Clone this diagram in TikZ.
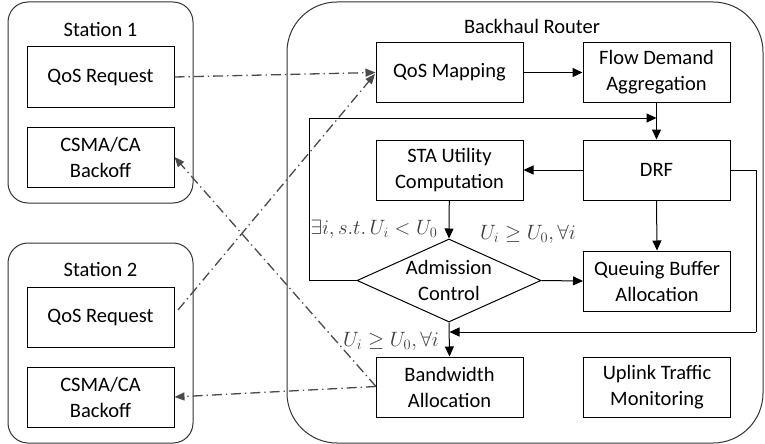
\documentclass[tikz,border=0pt]{standalone}
\usepackage{fontspec}
\setmainfont{Carlito}
\usetikzlibrary{arrows.meta,shapes.geometric}
\definecolor{dashgray}{HTML}{4A4A4A}
\definecolor{labgray}{HTML}{3C3C3C}
\definecolor{framegray}{HTML}{333333}
\tikzset{
  blk/.style={draw, line width=1pt, minimum width=147pt, minimum height=60pt, align=center, inner sep=0pt, font=\fontsize{20.5}{26}\selectfont},
  grp/.style={draw=framegray, line width=1pt},
  ttl/.style={font=\fontsize{20.5}{26}\selectfont},
  flow/.style={line width=1pt, -{Triangle[length=10pt,width=9pt]}},
  plainline/.style={line width=1pt},
  sig/.style={draw=dashgray, line width=1.3pt, dash pattern=on 10pt off 4pt on 1.3pt off 4pt, -{Triangle[length=10pt,width=8pt]}},
  cond/.style={text=labgray, font=\fontsize{19.5}{24}\selectfont, inner sep=0pt},
}
\begin{document}
\begin{tikzpicture}[x=1pt,y=-1pt]
\useasboundingbox (0,0) rectangle (765,444);
% group frames
\draw[grp, rounded corners=20pt] (8,2) rectangle (193,203);
\draw[grp, rounded corners=20pt] (8,243) rectangle (193,443);
\draw[grp, rounded corners=50pt] (287,2) rectangle (763,443);
\node[ttl] (t1) at (100.5,29) {Station 1};
\node[ttl] (t2) at (100.5,269) {Station 2};
\node[ttl] (tr) at (532,26) {Backhaul Router};
% station blocks
\node[blk] (s1q) at (100.5,77) {QoS Request};
\node[blk] (s1c) at (100.5,157) {CSMA/CA\\Backoff};
\node[blk] (s2q) at (100.5,317) {QoS Request};
\node[blk] (s2c) at (100.5,397) {CSMA/CA\\Backoff};
% router blocks
\node[blk] (qm) at (449.5,72.5) {QoS Mapping};
\node[blk] (fd) at (656.5,72.5) {Flow Demand\\Aggregation};
\node[blk] (sta) at (449.5,170) {STA Utility\\Computation};
\node[blk] (drf) at (656.5,170) {DRF};
\node[draw, line width=1pt, diamond, aspect=2.2, minimum width=184pt, minimum height=83pt, inner sep=0pt, align=center, font=\fontsize{20.5}{26}\selectfont] (adm) at (449,280.5) {Admission\\Control};
\node[blk] (qb) at (657,281) {Queuing Buffer\\Allocation};
\node[blk] (bw) at (449.5,387) {Bandwidth\\Allocation};
\node[blk] (ut) at (657,387) {Uplink Traffic\\Monitoring};
% coordinates
\coordinate (lb) at (309,280.5);
\coordinate (lt) at (309,118);
\coordinate (jt) at (656.5,118);
\coordinate (rt) at (756,170);
\coordinate (rb) at (756,332);
\coordinate (jb) at (449.5,332);
% flows
\draw[flow] (qm) -- (fd);
\draw[flow] (fd) -- (drf);
\draw[flow] (drf) -- (sta);
\draw[flow] (sta) -- (adm.north);
\draw[flow] (adm.east) -- (qb.west);
\draw[flow] (drf.south) -- (qb.north);
\draw[plainline] (adm.west) -- (lb) -- (lt);
\draw[flow] (lt) -- (jt);
\draw[plainline] (drf.east) -- (rt) -- (rb);
\draw[flow] (rb) -- (jb);
\draw[flow] (adm.south) -- (bw.north);
% signalling
\coordinate (s2o) at (178,310);
\coordinate (qmi) at (375,74);
\coordinate (bwo) at (376,386.5);
\draw[sig] (s1q.east) -- (qm.west);
\draw[sig] (s2o) -- (qmi);
\draw[sig] (bwo) -- (s1c.east);
\draw[sig] (bwo) -- (s2c.east);
% conditions
\node[cond] (c1) at (374,229) {$\exists i, s.t.\, U_i < U_0$};
\node[cond] (c2) at (528,234) {$U_i \geq U_0, \forall i$};
\node[cond] (c3) at (391,341) {$U_i \geq U_0, \forall i$};
\end{tikzpicture}
\end{document}
